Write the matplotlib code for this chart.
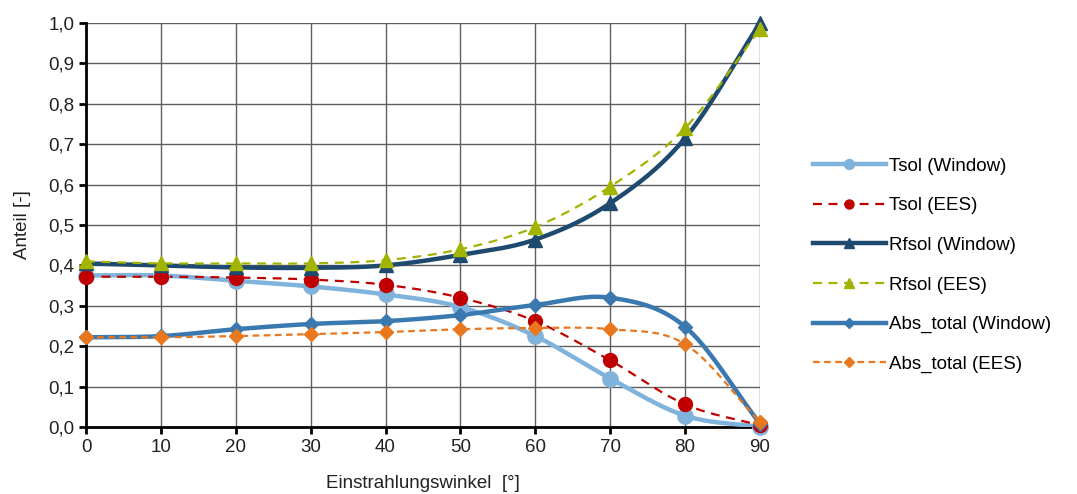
import matplotlib
matplotlib.use('Agg')
import matplotlib.pyplot as plt
import numpy as np

plt.rcParams['font.family'] = ['Liberation Sans', 'DejaVu Sans']

# Einstrahlungswinkel [°]
winkel = [0, 10, 20, 30, 40, 50, 60, 70, 80, 90]

tsol_window = [0.375, 0.375, 0.362, 0.348, 0.328, 0.297, 0.225, 0.120, 0.028, 0.0]
tsol_ees = [0.372, 0.372, 0.370, 0.365, 0.352, 0.320, 0.262, 0.165, 0.056, 0.004]
rfsol_window = [0.405, 0.400, 0.395, 0.394, 0.400, 0.426, 0.464, 0.554, 0.715, 1.0]
rfsol_ees = [0.410, 0.405, 0.405, 0.405, 0.413, 0.440, 0.495, 0.595, 0.740, 0.985]
abs_window = [0.222, 0.225, 0.242, 0.255, 0.262, 0.277, 0.302, 0.320, 0.248, 0.008]
abs_ees = [0.222, 0.222, 0.225, 0.230, 0.235, 0.242, 0.245, 0.242, 0.205, 0.012]


def smooth(x, y, n=20):
    # Catmull-Rom curve through the points, like Excel's smoothed lines
    x = np.asarray(x, float)
    y = np.asarray(y, float)
    px = np.concatenate([[2 * x[0] - x[1]], x, [2 * x[-1] - x[-2]]])
    py = np.concatenate([[2 * y[0] - y[1]], y, [2 * y[-1] - y[-2]]])
    t = np.linspace(0, 1, n, endpoint=False)
    xs, ys = [], []
    for i in range(1, len(px) - 2):
        for p, out in ((px, xs), (py, ys)):
            p0, p1, p2, p3 = p[i - 1], p[i], p[i + 1], p[i + 2]
            out.extend(0.5 * (2 * p1 + (-p0 + p2) * t
                              + (2 * p0 - 5 * p1 + 4 * p2 - p3) * t ** 2
                              + (-p0 + 3 * p1 - 3 * p2 + p3) * t ** 3))
    xs.append(x[-1])
    ys.append(y[-1])
    return xs, ys


fig = plt.figure(figsize=(10.77, 4.94), dpi=100)
ax = fig.add_axes([86 / 1077, 1 - 427 / 494, 674 / 1077, 404 / 494])

series = [
    (tsol_window, 'Tsol (Window)', '#7fb3db', '-', 3.2, 'o', 11),
    (tsol_ees, 'Tsol (EES)', '#c00000', (0, (4, 3)), 1.6, 'o', 10),
    (rfsol_window, 'Rfsol (Window)', '#1f4a70', '-', 3.2, '^', 10),
    (rfsol_ees, 'Rfsol (EES)', '#a3b400', (0, (4, 3)), 1.6, '^', 10),
    (abs_window, 'Abs_total (Window)', '#3a78b0', '-', 3.2, 'D', 7.5),
    (abs_ees, 'Abs_total (EES)', '#e8771e', (0, (3, 2)), 1.6, 'D', 7.5),
]

for vals, name, col, ls, lw, mk, ms in series:
    sx, sy = smooth(winkel, vals)
    ax.plot(sx, sy, color=col, ls=ls, lw=lw, zorder=3)
    ax.plot(winkel, vals, ls='none', marker=mk, ms=ms, color=col,
            markeredgecolor=col, zorder=4, clip_on=False)
    ax.plot([], [], color=col, ls=ls, lw=lw, marker=mk, ms=ms * 0.65,
            label=name)

ax.set_xlim(0, 90)
ax.set_ylim(0, 1.0)
ax.set_xticks(winkel)
yt = np.round(np.arange(0, 1.01, 0.1), 1)
ax.set_yticks(yt)
ax.set_yticklabels([f'{v:.1f}'.replace('.', ',') for v in yt])
ax.grid(True, color='#5e5e5e', lw=1.0)
ax.set_axisbelow(True)
for s in ['top', 'right']:
    ax.spines[s].set_visible(False)
for s in ['left', 'bottom']:
    ax.spines[s].set_linewidth(2)
    ax.spines[s].set_color('black')
ax.tick_params(labelsize=13.5, width=2, length=5, color='black',
               colors='#222222')
ax.set_xlabel('Einstrahlungswinkel  [°]', fontsize=13.5, color='#222222',
              labelpad=14)
ax.set_ylabel('Anteil [-]', fontsize=13.5, color='#222222', labelpad=12)

fig.legend(loc='upper left', bbox_to_anchor=(805 / 1077, 1 - 150 / 494),
           frameon=False, fontsize=13.5, handlelength=3.9, labelspacing=1.2,
           handletextpad=0.2, borderaxespad=0)

fig.savefig('out.png', dpi=100)
